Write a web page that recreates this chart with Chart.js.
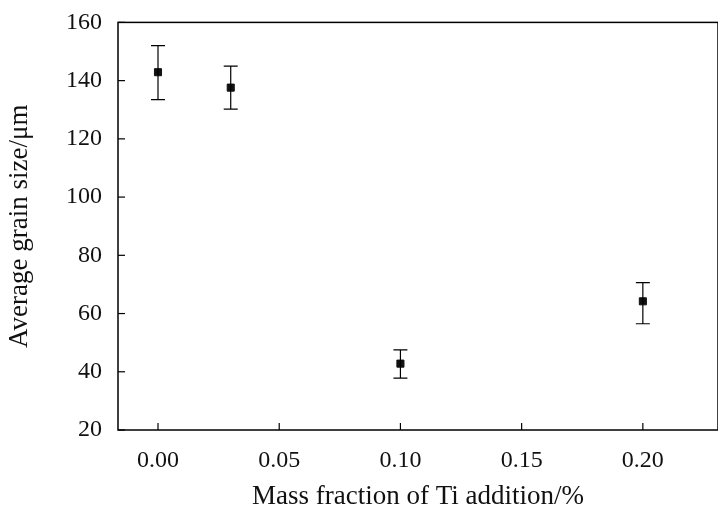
<!DOCTYPE html>
<html>
<head>
<script src="https://cdn.jsdelivr.net/npm/chart.js@4"></script>
<style>
  html, body { margin: 0; padding: 0; background: #fff; }
  #wrap { width: 724px; height: 517px; }
</style>
</head>
<body>
<div id="wrap"><canvas id="myChart"></canvas></div>
<script>
const tiFraction = [0.00, 0.03, 0.10, 0.20];
const grainSize = [142.9, 137.6, 42.8, 64.2];
const errUpper = [152.0, 145.0, 47.5, 70.6];
const errLower = [133.5, 130.2, 37.8, 56.5];
const xTicks = [0.00, 0.05, 0.10, 0.15, 0.20];
const yTicks = [20, 40, 60, 80, 100, 120, 140, 160];

const font = "'Liberation Serif', 'Times New Roman', serif";

const framePlugin = {
  id: "frame",
  afterDatasetsDraw(chart) {
    const { ctx, chartArea: a, scales } = chart;
    ctx.save();
    ctx.strokeStyle = "#000";
    ctx.lineWidth = 1.5;
    ctx.strokeRect(a.left, a.top, a.right - a.left, a.bottom - a.top);
    ctx.lineWidth = 1.2;
    // inward ticks
    xTicks.forEach((v) => {
      const x = scales.x.getPixelForValue(v);
      ctx.beginPath();
      ctx.moveTo(x, a.bottom);
      ctx.lineTo(x, a.bottom - 7);
      ctx.stroke();
    });
    yTicks.forEach((v) => {
      const y = scales.y.getPixelForValue(v);
      ctx.beginPath();
      ctx.moveTo(a.left, y);
      ctx.lineTo(a.left + 7, y);
      ctx.stroke();
    });
    // error bars
    tiFraction.forEach((xv, i) => {
      const x = scales.x.getPixelForValue(xv);
      const yt = scales.y.getPixelForValue(errUpper[i]);
      const yb = scales.y.getPixelForValue(errLower[i]);
      ctx.beginPath();
      ctx.moveTo(x, yt); ctx.lineTo(x, yb);
      ctx.moveTo(x - 7, yt); ctx.lineTo(x + 7, yt);
      ctx.moveTo(x - 7, yb); ctx.lineTo(x + 7, yb);
      ctx.stroke();
    });
    ctx.restore();
  }
};

new Chart(document.getElementById("myChart").getContext("2d"), {
  type: "scatter",
  data: {
    datasets: [{
      data: tiFraction.map((x, i) => ({ x: x, y: grainSize[i] })),
      pointStyle: "rect",
      pointRadius: 5,
      backgroundColor: "#111",
      borderColor: "#111",
    }],
  },
  options: {
    responsive: true,
    maintainAspectRatio: false,
    animation: false,
    layout: { padding: { top: 0, right: 0, left: 0, bottom: 0 } },
    plugins: { legend: { display: false }, tooltip: { enabled: false } },
    scales: {
      x: {
        type: "linear",
        min: -0.0165,
        max: 0.231,
        afterBuildTicks: (s) => { s.ticks = xTicks.map((v) => ({ value: v })); },
        afterFit: (s) => { s.height = 87; },
        grid: { display: false },
        border: { display: false },
        ticks: {
          color: "#111",
          font: { family: font, size: 24 },
          padding: 8,
          callback: (v) => v.toFixed(2),
        },
        title: {
          display: true,
          text: "Mass fraction of Ti addition/%",
          color: "#111",
          font: { family: font, size: 27 },
          padding: { top: 4 },
        },
      },
      y: {
        min: 20,
        max: 160,
        afterBuildTicks: (s) => { s.ticks = yTicks.map((v) => ({ value: v })); },
        afterFit: (s) => { s.width = 118; },
        grid: { display: false },
        border: { display: false },
        ticks: {
          color: "#111",
          font: { family: font, size: 24 },
          padding: 8,
        },
        title: {
          display: true,
          text: "Average grain size/μm",
          color: "#111",
          font: { family: font, size: 27 },
          padding: { bottom: 2 },
        },
      },
    },
  },
  plugins: [framePlugin],
});
</script>
</body>
</html>
